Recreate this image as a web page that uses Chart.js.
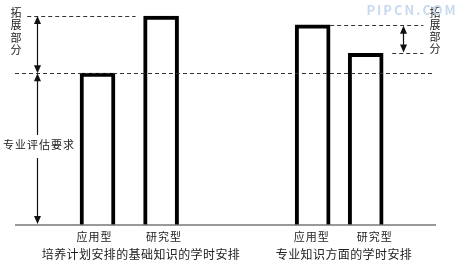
<!DOCTYPE html>
<html>
<head>
<meta charset="utf-8">
<script src="https://cdn.jsdelivr.net/npm/chart.js@4.4.1/dist/chart.umd.min.js"></script>
<style>
  html, body { margin: 0; padding: 0; background: #fff; }
  #wrap { width: 467px; height: 263px; }
</style>
</head>
<body>
<div id="wrap"><canvas id="chart" width="467" height="263"></canvas></div>
<script>
// Data
const categories = ['应用型', '研究型', '应用型', '研究型'];
const groupTitles = ['培养计划安排的基础知识的学时安排', '专业知识方面的学时安排'];
const barSlots = [19.6, 34.7, 70.7, 83.3];   // position of each bar along the x scale
const hours = [69, 95, 91, 78];              // relative height of each bar
const sideNotes = ['拓展部分', '专业评估要求'];

const FONT = '"Noto Sans CJK SC", "Noto Sans", sans-serif';
const INK = '#222';

// Helper Functions
function arrowHead(ctx, x, y, dir) {
    // dir: -1 points up, 1 points down
    ctx.beginPath();
    ctx.moveTo(x, y);
    ctx.lineTo(x - 3.5, y - dir * 8);
    ctx.lineTo(x + 3.5, y - dir * 8);
    ctx.closePath();
    ctx.fill();
}

function dashed(ctx, x1, x2, y) {
    ctx.save();
    ctx.setLineDash([4, 3]);
    ctx.strokeStyle = '#333';
    ctx.lineWidth = 1;
    ctx.beginPath();
    ctx.moveTo(x1, Math.round(y) + 0.5);
    ctx.lineTo(x2, Math.round(y) + 0.5);
    ctx.stroke();
    ctx.restore();
}

function vline(ctx, x, y1, y2) {
    ctx.beginPath();
    ctx.moveTo(x, y1);
    ctx.lineTo(x, y2);
    ctx.stroke();
}

function verticalText(ctx, text, x, y0, step) {
    [...text].forEach((ch, i) => ctx.fillText(ch, x, y0 + i * step));
}

// Annotation plugin: baseline, guide lines, arrows and labels
const annotations = {
    id: 'annotations',
    afterDatasetsDraw(chart) {
        const ctx = chart.ctx;
        const xs = chart.scales.x;
        const ys = chart.scales.y;
        const area = chart.chartArea;
        const bars = chart.getDatasetMeta(0).data;
        const top = hours.map(v => ys.getPixelForValue(v));
        const base = ys.getPixelForValue(0);

        ctx.save();

        // baseline
        ctx.strokeStyle = '#777';
        ctx.lineWidth = 1.5;
        ctx.beginPath();
        ctx.moveTo(area.left, base);
        ctx.lineTo(area.right, base);
        ctx.stroke();

        // dashed guides
        const right1 = bars[2].x + bars[2].width / 2;
        const right2 = bars[3].x + bars[3].width / 2;
        dashed(ctx, xs.getPixelForValue(2.9), bars[1].x - bars[1].width / 2 - 8, top[1]);
        dashed(ctx, area.left, xs.getPixelForValue(99.3), top[0]);
        dashed(ctx, right1, xs.getPixelForValue(97), top[2]);
        dashed(ctx, right2 + 9, xs.getPixelForValue(97), top[3]);

        // arrows
        ctx.strokeStyle = '#111';
        ctx.fillStyle = '#111';
        ctx.lineWidth = 1.2;
        const ax = Math.round(xs.getPixelForValue(5.2)) + 0.5;
        vline(ctx, ax, top[1] + 4, top[0] - 4);
        arrowHead(ctx, ax, top[1], -1);
        arrowHead(ctx, ax, top[0], 1);
        vline(ctx, ax, top[0] + 4, 135);
        vline(ctx, ax, 158, base - 4);
        arrowHead(ctx, ax, top[0], -1);
        arrowHead(ctx, ax, base - 1, 1);

        const bx = Math.round(xs.getPixelForValue(92.2)) + 0.5;
        vline(ctx, bx, top[2] + 5, top[3] - 5);
        arrowHead(ctx, bx, top[2] + 1, -1);
        arrowHead(ctx, bx, top[3] - 1, 1);

        // texts
        ctx.fillStyle = INK;
        ctx.textAlign = 'center';
        ctx.textBaseline = 'middle';
        ctx.font = '11px ' + FONT;
        ctx.letterSpacing = '1px';
        const labelShift = [-3, 3, -1, 9];
        bars.forEach((b, i) => ctx.fillText(categories[i], b.x + labelShift[i], base + 12));

        ctx.font = '12px ' + FONT;
        ctx.letterSpacing = '0.4px';
        ctx.fillText(groupTitles[0], 141, 254);
        ctx.fillText(groupTitles[1], 344, 254);

        ctx.font = '11px ' + FONT;
        ctx.letterSpacing = '0px';
        verticalText(ctx, sideNotes[0], 16, 13, 12.3);
        verticalText(ctx, sideNotes[0], 435, 13, 12);
        ctx.letterSpacing = '1px';
        ctx.fillText(sideNotes[1], 39, 145);

        // watermark
        ctx.fillStyle = '#c9d9ef';
        ctx.font = 'bold 13px ' + FONT;
        ctx.letterSpacing = '2px';
        ctx.fillText('PIPCN.COM', 412, 10);

        ctx.restore();
    }
};

// Chart
const ctx = document.getElementById('chart').getContext('2d');
new Chart(ctx, {
    type: 'bar',
    data: {
        labels: categories,
        datasets: [{
            data: barSlots.map((x, i) => ({ x: x, y: hours[i] })),
            backgroundColor: '#fff',
            borderColor: '#000',
            borderWidth: 4,
            borderSkipped: 'bottom',
            barThickness: 35
        }]
    },
    options: {
        responsive: false,
        animation: false,
        devicePixelRatio: 1,
        layout: { padding: { left: 15, right: 31, top: 5, bottom: 38 } },
        scales: {
            x: { type: 'linear', min: 0, max: 100, offset: false, display: false },
            y: { min: 0, max: 100, display: false }
        },
        plugins: {
            legend: { display: false },
            tooltip: { enabled: false }
        }
    },
    plugins: [annotations]
});
</script>
</body>
</html>
